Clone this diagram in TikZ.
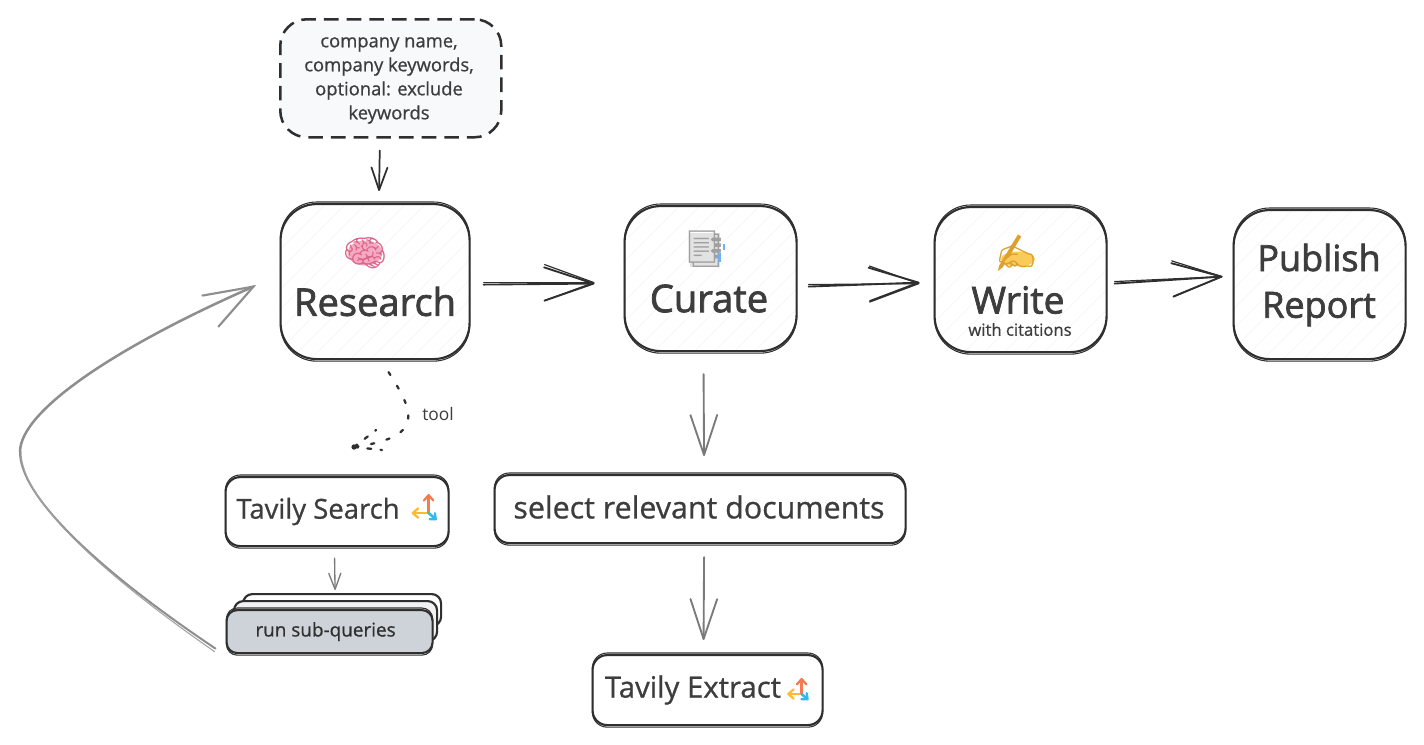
\documentclass[tikz,border=0pt]{standalone}
\usepackage{fontspec}
\setmainfont{Open Sans}
\newfontfamily\heavy[FakeBold=2]{Open Sans}
\newfontfamily\medium[FakeBold=0.8]{Open Sans}
\newfontfamily\emojifont{Noto Emoji}
\usetikzlibrary{arrows.meta,backgrounds}
\definecolor{ink}{HTML}{2F2F2F}
\definecolor{txt}{HTML}{3D3D3D}
\definecolor{graya}{HTML}{7A7A7A}
\definecolor{hatch}{HTML}{F5F5F5}
\definecolor{inputfill}{HTML}{F8F9FA}
\definecolor{stackmid}{HTML}{F0F2F4}
\definecolor{stackfront}{HTML}{CED3D9}
\definecolor{torange}{HTML}{F47A50}
\definecolor{tyellow}{HTML}{FDBB2D}
\definecolor{tblue}{HTML}{38B6F0}
\definecolor{tgreen}{HTML}{3FBFA0}
\definecolor{brainfill}{HTML}{F6A9C0}
\definecolor{brainpink}{HTML}{D9688C}
\definecolor{handfill}{HTML}{FBCB5A}
\definecolor{handgold}{HTML}{DDA02C}
\definecolor{docfill}{HTML}{E2E2E2}
\definecolor{docgray}{HTML}{A0A0A0}
\definecolor{tabblue}{HTML}{6FB1F5}
\newcommand{\pxfont}[2]{\fontsize{#1}{#2}\selectfont}
\tikzset{
  boxbase/.style={draw=ink,line width=1.6pt,rounded corners=16pt,inner sep=0pt,anchor=north west},
  bigbox/.style={boxbase,rounded corners=27pt},
  midbox/.style={boxbase,rounded corners=11pt},
  echo/.style={draw=ink,line width=0.8pt},
  label/.style={text=txt,inner sep=0pt,align=center},
  flowdark/.style={draw=ink,line width=1.4pt,line cap=round,-{Straight Barb[length=37pt,width=25pt,line width=1.4pt,round]}},
  flowdarkb/.style={draw=ink,line width=0.9pt,line cap=round,-{Straight Barb[length=37pt,width=27pt,line width=0.9pt,round]}},
  flowgray/.style={draw=graya,line width=1.4pt,line cap=round,-{Straight Barb[length=30pt,width=20pt,line width=1.4pt,round]}},
  flowsmall/.style={draw=graya,line width=1pt,line cap=round,-{Straight Barb[length=12pt,width=9pt,line width=1pt,round]}},
  flowinput/.style={draw=ink,line width=1.3pt,line cap=round,-{Straight Barb[length=17pt,width=12pt,line width=1.3pt,round]}},
  flowloop/.style={draw=graya!85,line width=1.9pt,line cap=round},
  dots/.style={draw=ink,line width=1.7pt,line cap=round,dash pattern=on 2.5pt off 9.5pt},
  barbdots/.style={draw=ink,line width=1.7pt,line cap=round,dash pattern=on 3pt off 7pt},
  logoarrow/.style={line width=#1,line cap=round},
  logo/.pic={
    \draw[logoarrow=2pt,torange,-{Straight Barb[length=4pt,width=7pt,line width=1.7pt,round]}] (0,0) -- (0,-19);
    \draw[logoarrow=2pt,tyellow,-{Straight Barb[length=4pt,width=7pt,line width=1.7pt,round]}] (0,0) -- (-17,0);
    \draw[logoarrow=2pt,tblue,-{Straight Barb[length=3.5pt,width=6pt,line width=1.7pt,round]}] (0,0) -- (8,7);
    \fill[tgreen] (0,0) circle (1.1pt);
  }
}
\begin{document}
\begin{tikzpicture}[x=0.75pt,y=-0.75pt]
\useasboundingbox (0,0) rectangle (1424,744);

% boxes
\node[boxbase,rounded corners=20pt,line width=1.9pt,fill=inputfill,dash pattern=on 11pt off 6pt,minimum width=165.75pt,minimum height=88.5pt] (input) at (279,18) {};
\node[bigbox,minimum width=141.75pt,minimum height=116.25pt] (research) at (279.5,203) {};
\node[bigbox,minimum width=129pt,minimum height=108.75pt] (curate) at (623.5,205) {};
\node[bigbox,minimum width=129pt,minimum height=108.75pt] (write) at (933.5,206) {};
\node[bigbox,minimum width=129pt,minimum height=111.75pt] (publish) at (1232.5,209) {};
\node[midbox,minimum width=167.25pt,minimum height=51.75pt] (search) at (224.5,476) {};
\node[midbox,minimum width=308.25pt,minimum height=51pt] (select) at (493.5,474) {};
\node[midbox,minimum width=172.5pt,minimum height=52.5pt] (extract) at (591.5,654) {};
\node[boxbase,rounded corners=7pt,fill=white,minimum width=148.5pt,minimum height=24pt] (stackback) at (242,593) {};
\node[boxbase,rounded corners=7pt,fill=stackmid,minimum width=152.25pt,minimum height=30pt] (stackmiddle) at (233,600) {};
\node[boxbase,rounded corners=8pt,fill=stackfront,minimum width=154.5pt,minimum height=32.25pt,text=ink,font=\medium\pxfont{14.2}{15}] (stack) at (225.5,609) {\hspace*{-6pt}run sub-queries};

% hand-drawn second strokes
\foreach \n/\r in {research/27pt,curate/27pt,write/27pt,publish/27pt,search/11pt,select/11pt,extract/11pt,stack/8pt}{
  \draw[echo,rounded corners=\r] ([shift={(1,-1)}]\n.north west) rectangle ([shift={(-1,1)}]\n.south east);
}

% hachure
\begin{scope}[on background layer]
  \foreach \n in {research,curate,write,publish}{
    \begin{scope}
      \clip[rounded corners=27pt] (\n.north west) rectangle (\n.south east);
      \foreach \k in {-180,-160,...,200}{
        \draw[hatch,line width=0.6pt] ([shift={(\k,10)}]\n.south west) -- ++(320,-320);
      }
    \end{scope}
  }
\end{scope}

% labels
\node[label,font=\medium\pxfont{13.8}{18}] (inputlabel) at (389,80.5) {company name,\\company keywords,\\optional: exclude\\keywords};
\node[label,font=\heavy\pxfont{28.6}{35}] (researchlabel) at (375,301.5) {Research};
\node[label,font=\heavy\pxfont{28.6}{35}] (curatelabel) at (709,298.5) {Curate};
\node[label,font=\heavy\pxfont{28}{35}] (writelabel) at (1018,300) {Write};
\node[label,font=\medium\pxfont{12.5}{13}] (citelabel) at (1020,329.5) {with citations};
\node[label,font=\heavy\pxfont{27}{35}] (publishlabel) at (1319,285) {Publish\\Report};
\node[label,font=\medium\pxfont{20.6}{22}] (searchlabel) at (318,511.5) {Tavily Search};
\node[label,font=\medium\pxfont{22.8}{26}] (selectlabel) at (699,507) {select relevant documents};
\node[label,font=\medium\pxfont{22}{24}] (extractlabel) at (693,690) {Tavily Extract};
\node[label,font=\pxfont{13}{14}] (toollabel) at (438,414) {tool};

% emoji
\fill[brainfill] (365,253) ellipse (17.5 and 12.5);
\node[inner sep=0pt,text=brainpink,font=\emojifont\pxfont{27}{30}] (brain) at (365,253) {🧠};
\fill[docfill] (690,233) rectangle (720,267);
\node[inner sep=0pt,text=docgray,font=\emojifont\pxfont{27}{30}] (doc) at (705,249) {📑};
\fill[tabblue] (722.5,244) rectangle (725,250);
\fill[tabblue] (718,253) rectangle (720.5,262);
\fill[handfill] (1018,259) ellipse (17 and 7.5);
\node[inner sep=0pt,text=handgold,font=\emojifont\pxfont{27}{30}] (hand) at (1016,253) {✍};

% logos
\pic at ([shift={(-21,37)}]search.north east) {logo};
\pic[scale=0.85] at ([shift={(-22,40)}]extract.north east) {logo};

% connectors
\draw[flowinput] ([shift={(-11,12)}]input.south) -- ([shift={(4,-12)}]research.north);
\draw[flowdark] ([shift={(13,3)}]research.east) -- ([shift={(-29,5)}]curate.west);
\draw[flowdarkb] ([shift={(13,1)}]research.east) -- ([shift={(-29,4)}]curate.west);
\draw[flowdark] ([shift={(11,8)}]curate.east) -- ([shift={(-14,3)}]write.west);
\draw[flowdarkb] ([shift={(11,6)}]curate.east) -- ([shift={(-14,4)}]write.west);
\draw[flowdark] ([shift={(7,4)}]write.east) -- ([shift={(-10,-8)}]publish.west);
\draw[flowdarkb] ([shift={(7,2)}]write.east) -- ([shift={(-10,-8)}]publish.west);
\draw[flowgray] ([shift={(-7,22)}]curate.south) -- ([shift={(4,-18)}]select.north);
\draw[flowgray] ([shift={(4,13)}]select.south) -- ([shift={(-4,-14)}]extract.north);
\draw[flowsmall] ([shift={(-2.5,11)}]search.south) -- ([shift={(-7,-3)}]stackback.north);

% tool connector (dotted, ends above the search box)
\coordinate (tooltip) at ([shift={(17,-29)}]search.north);
\draw[dots] ([shift={(13.5,12)}]research.south) .. controls +(27,42) and +(70,-10) .. (tooltip);
\draw[barbdots] (tooltip) -- ++(22,-17);
\draw[barbdots] (tooltip) -- ++(28,3);
\fill[ink] (tooltip) circle (2pt);

% feedback loop
\coordinate (loopstart) at ([shift={(-10,17)}]stack.west);
\coordinate (looptip) at ([shift={(-26,5)}]research.west);
\draw[flowloop,line width=1.5pt] (loopstart) .. controls +(-106,-71) and (20,500) .. (20,452);
\draw[draw=graya!70,line width=0.8pt,line cap=round] ([shift={(-1,3)}]loopstart) .. controls +(-105,-73) and (21,502) .. (21,452);
\draw[flowloop] (20,452) .. controls (20,410) and (120,345) .. (looptip);
\draw[flowloop,line width=1.6pt] ([shift={(-51,9)}]looptip) -- (looptip) -- ([shift={(-35,40)}]looptip);
\end{tikzpicture}
\end{document}
